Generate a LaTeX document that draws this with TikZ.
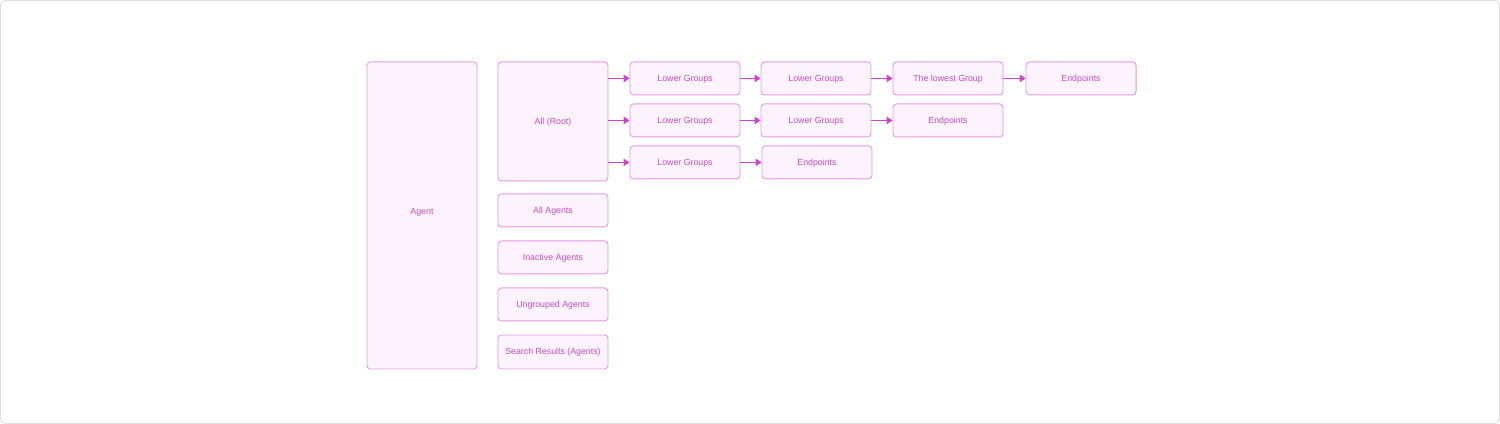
\documentclass[tikz,border=0pt]{standalone}
\usepackage{fontspec}
\setmainfont{Liberation Sans}
\usetikzlibrary{arrows.meta,positioning}
\definecolor{boxline}{HTML}{E597E3}
\definecolor{boxfill}{HTML}{FCF3FC}
\definecolor{boxtext}{HTML}{C84CC6}
\definecolor{arrline}{HTML}{CC44CC}
\definecolor{frameline}{HTML}{DDDDDD}
\begin{document}
\begin{tikzpicture}[x=1pt,y=-1pt,every node/.style={font=\fontsize{8.8}{10}\selectfont,text=boxtext},
  box/.style={draw=boxline,fill=boxfill,line width=.9pt,rounded corners=3.5pt,minimum width=110pt,minimum height=33pt,inner sep=0pt,text height=6.4pt,text depth=0.4pt},
  arr/.style={draw=arrline,line width=1.1pt,-{Triangle[length=6pt,width=7.5pt]}}]
\draw[frameline,line width=.8pt,rounded corners=5pt,fill=white] (0.5,0.5) rectangle (1499.5,423.5);
\node[box,minimum height=307pt,text depth=8pt] (agent) at (422,215.5) {Agent};
\node[box,minimum height=119pt] (root) at (553,121.5) {All (Root)};
\node[box] (allag) at (553,210.5) {All Agents};
\node[box] (inact) at (553,257.5) {Inactive Agents};
\node[box] (ungrp) at (553,304.5) {Ungrouped Agents};
\node[box,minimum height=34pt] (search) at (553,352) {Search Results (Agents)};
% first row
\node[box] (lga) at (685,78.5) {Lower Groups};
\node[box] (lgb) at (816,78.5) {Lower Groups};
\node[box] (lowest) at (948,78.5) {The lowest Group};
\node[box] (epa) at (1081,78.5) {Endpoints};
% second row
\node[box] (lgc) at (685,120.5) {Lower Groups};
\node[box] (lgd) at (816,120.5) {Lower Groups};
\node[box] (epb) at (948,120.5) {Endpoints};
% third row
\node[box] (lge) at (685,162.5) {Lower Groups};
\node[box] (epc) at (817,162.5) {Endpoints};
\draw[arr] (root.east |- lga.west) -- (lga.west);
\draw[arr] (root.east |- lgc.west) -- (lgc.west);
\draw[arr] (root.east |- lge.west) -- (lge.west);
\draw[arr] (lga) -- (lgb);
\draw[arr] (lgb) -- (lowest);
\draw[arr] (lowest) -- (epa);
\draw[arr] (lgc) -- (lgd);
\draw[arr] (lgd) -- (epb);
\draw[arr] (lge) -- (epc);
\end{tikzpicture}
\end{document}
